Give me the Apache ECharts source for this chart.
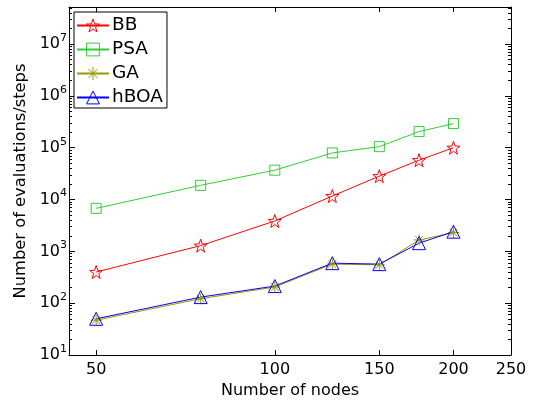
<!DOCTYPE html>
<html>
<head>
<meta charset="utf-8">
<script src="https://cdn.jsdelivr.net/npm/echarts@6/dist/echarts.min.js"></script>
<style>
  html, body { margin: 0; padding: 0; background: #fff; }
  #chart { width: 534px; height: 404px; }
</style>
</head>
<body>
<div id="chart"></div>
<script>
// data
const nodes = [50, 75, 100, 125, 150, 175, 200];
const bb   = [400, 1290, 3860, 11700, 28300, 57500, 100000];
const psa  = [6770, 18800, 36900, 79400, 105000, 205000, 292000];
const ga   = [47, 122, 205, 567, 550, 1660, 2300];
const hboa = [50, 131, 214, 593, 567, 1440, 2400];

const seriesNames = ['BB', 'PSA', 'GA', 'hBOA'];
const xTicks = [50, 100, 150, 200, 250];
const yTicks = [10, 100, 1e3, 1e4, 1e5, 1e6, 1e7];

// matlab style minor ticks 2..9 x 10^k
const yMinor = [];
for (let e = 1; e <= 7; e++) {
    for (let m = 2; m <= 9; m++) {
        if (m * Math.pow(10, e) <= 5.2e7) yMinor.push(m * Math.pow(10, e));
    }
}

const font = 'DejaVu Sans, sans-serif';
const starPath = 'path://M0,-10L2.35,-3.24L9.51,-3.09L3.8,1.24L5.88,8.09L0,4L-5.88,8.09L-3.8,1.24L-9.51,-3.09L-2.35,-3.24Z';
const astPath = 'path://M0,-10L0,10M-10,0L10,0M-7,-7L7,7M-7,7L7,-7';
const triPath = 'path://M0,-9L10,8L-10,8Z';

function supLabel(v) {
    const e = Math.round(Math.log10(v));
    if (Math.abs(v - Math.pow(10, e)) > 1e-6 * v) return '';
    return '{b|10}{s|' + e + '}';
}

function mkSeries(name, values, color, symbol, size) {
    return {
        name: name,
        type: 'line',
        data: nodes.map((x, i) => [x, values[i]]),
        symbol: symbol,
        symbolSize: size,
        showSymbol: true,
        lineStyle: { color: color, width: 1 },
        itemStyle: { color: 'rgba(0,0,0,0)', borderColor: color, borderWidth: 1 },
        emphasis: { disabled: true },
        animation: false
    };
}

const chart = echarts.init(document.getElementById('chart'));
const baseX = {
    type: 'log', min: 45, max: 250,
    axisLine: { show: true, onZero: false, lineStyle: { color: '#000', width: 1 } },
    splitLine: { show: false }
};
const baseY = {
    type: 'log', min: 10, max: 5.2e7,
    axisLine: { show: true, onZero: false, lineStyle: { color: '#000', width: 1 } },
    splitLine: { show: false }
};

chart.setOption({
    backgroundColor: '#fff',
    grid: { left: 69, right: 23, top: 7, bottom: 49 },
    legend: {
        left: 74, top: 12,
        orient: 'vertical',
        backgroundColor: '#fff',
        borderColor: '#000', borderWidth: 1,
        padding: [4, 4, 1, 2],
        itemWidth: 32, itemHeight: 16, itemGap: 5,
        itemStyle: { color: 'rgba(0,0,0,0)', borderColor: 'inherit', borderWidth: 1 },
        textStyle: { fontFamily: font, fontSize: 18.5, color: '#000', padding: [0, 0, 0, -2] },
        data: seriesNames
    },
    xAxis: [
        Object.assign({}, baseX, {
            position: 'bottom',
            name: 'Number of nodes', nameLocation: 'middle', nameGap: 25,
            nameTextStyle: { fontFamily: font, fontSize: 16, color: '#000' },
            axisTick: { show: true, inside: true, length: 5, customValues: xTicks, lineStyle: { color: '#000' } },
            axisLabel: { show: true, customValues: xTicks, margin: 7, fontFamily: font, fontSize: 16, color: '#000' }
        }),
        Object.assign({}, baseX, {
            position: 'top',
            axisTick: { show: true, inside: true, length: 5, customValues: xTicks, lineStyle: { color: '#000' } },
            axisLabel: { show: false }
        })
    ],
    yAxis: [
        Object.assign({}, baseY, {
            position: 'left',
            name: 'Number of evaluations/steps', nameLocation: 'middle', nameGap: 32,
            nameTextStyle: { fontFamily: font, fontSize: 16.3, color: '#000' },
            axisTick: { show: true, inside: true, length: 6, customValues: yTicks, lineStyle: { color: '#000' } },
            axisLabel: {
                show: true, customValues: yTicks, margin: 2,
                formatter: supLabel,
                rich: {
                    b: { fontFamily: font, fontSize: 16, color: '#000' },
                    s: { fontFamily: font, fontSize: 11, color: '#000', padding: [0, 0, 12, 0] }
                }
            }
        }),
        Object.assign({}, baseY, {
            position: 'right',
            axisTick: { show: true, inside: true, length: 6, customValues: yTicks, lineStyle: { color: '#000' } },
            axisLabel: { show: false }
        }),
        Object.assign({}, baseY, {
            position: 'left',
            axisLine: { show: false },
            axisTick: { show: true, inside: true, length: 3, customValues: yMinor, lineStyle: { color: '#000' } },
            axisLabel: { show: false }
        }),
        Object.assign({}, baseY, {
            position: 'right',
            axisLine: { show: false },
            axisTick: { show: true, inside: true, length: 3, customValues: yMinor, lineStyle: { color: '#000' } },
            axisLabel: { show: false }
        })
    ],
    series: [
        mkSeries('BB', bb, '#ff0000', starPath, 13),
        mkSeries('PSA', psa, '#33cc33', 'rect', 10),
        mkSeries('GA', ga, '#999900', astPath, 11),
        mkSeries('hBOA', hboa, '#0000ff', triPath, 13)
    ]
});
</script>
</body>
</html>
